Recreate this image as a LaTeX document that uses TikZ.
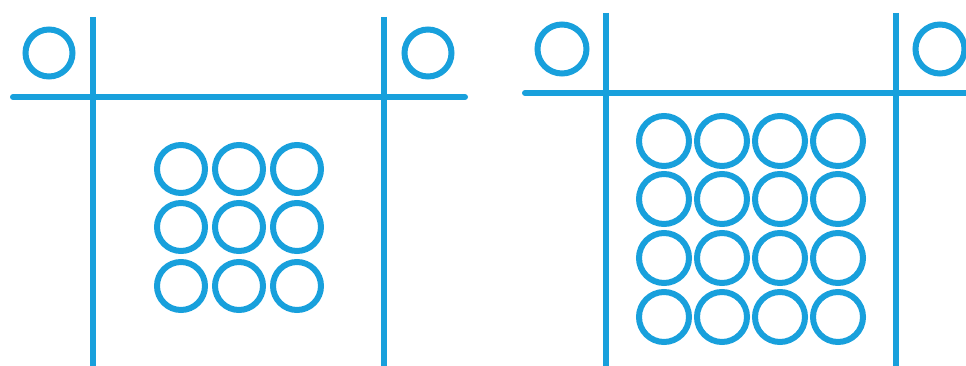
\documentclass[tikz,border=0pt]{standalone}
\definecolor{lineblue}{RGB}{24,160,220}
\begin{document}
\begin{tikzpicture}[x=1pt,y=-1pt,
  bar/.style={draw=lineblue,line width=6pt},
  ring/.style={draw=lineblue,line width=6pt}]
\useasboundingbox (0,0) rectangle (966,366);
% left figure
\draw[bar] (93,17) -- (93,366);
\draw[bar] (384,17) -- (384,366);
\draw[bar,line cap=round] (13,97) -- (465,97);
\draw[ring] (49,53) circle (23.5);
\draw[ring] (428,53) circle (23.5);
\foreach \cx in {181,239,297}
  \foreach \cy in {169,227,286}
    \draw[ring] (\cx,\cy) circle (24);
% right figure
\draw[bar] (606,13) -- (606,366);
\draw[bar] (896,13) -- (896,366);
\draw[bar,line cap=round] (525,93) -- (970,93);
\draw[ring] (562,49) circle (24.5);
\draw[ring] (940,49) circle (24.5);
\foreach \cx in {664,722,780,838}
  \foreach \cy in {141,199,258,317}
    \draw[ring] (\cx,\cy) circle (25);
\end{tikzpicture}
\end{document}
